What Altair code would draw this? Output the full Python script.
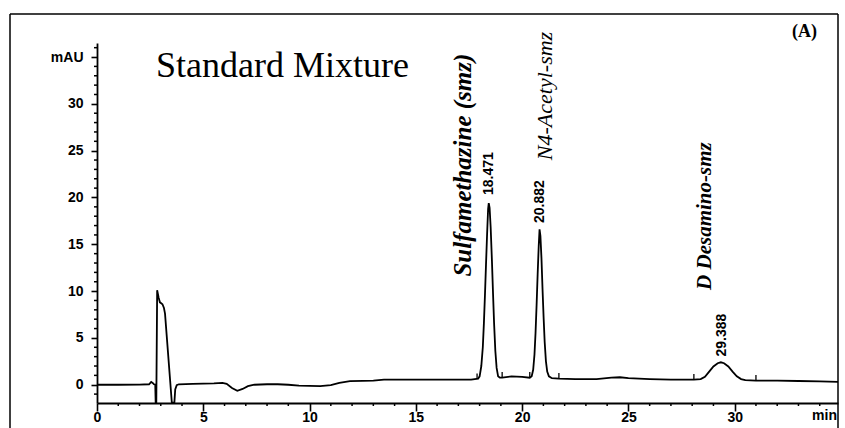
import altair as alt
import pandas as pd

# --- chromatogram trace (time in min, absorbance in mAU) ---
time_min = [
    0.0, 1.0, 2.0, 2.45, 2.55, 2.62, 2.68, 2.74, 2.76, 2.79, 2.83, 2.9, 2.96, 3.02, 3.08,
    3.15, 3.2, 3.52, 3.64, 3.68, 3.75, 3.85, 4.5, 5.0, 5.5, 5.9, 6.1, 6.35, 6.6, 6.85,
    7.1, 7.4, 8.0, 8.5, 9.0, 9.5, 10.0, 10.5, 11.0, 11.4, 11.9, 12.5, 13.0, 13.5, 14.0,
    15.0, 16.0, 17.0, 17.6,
    17.93, 18.0, 18.08, 18.15, 18.2, 18.25, 18.3, 18.35, 18.4, 18.43, 18.47, 18.52,
    18.58, 18.63, 18.68, 18.74, 18.8, 18.87, 18.95, 19.06,
    19.5, 20.0, 20.36,
    20.45, 20.52, 20.58, 20.63, 20.68, 20.73, 20.78, 20.82, 20.86, 20.91, 20.96, 21.01,
    21.06, 21.12, 21.18, 21.26, 21.4, 21.73,
    22.5, 23.5, 24.2, 24.6, 25.0, 26.0, 27.0, 28.08,
    28.4, 28.6, 28.8, 29.0, 29.2, 29.35, 29.5, 29.7, 29.9, 30.1, 30.3, 30.5,
    31.0, 32.0, 33.0, 34.0, 34.86,
]
absorbance_mau = [
    0.0, 0.0, 0.02, 0.05, 0.3, 0.2, 0.05, 0.0, -1.9, -1.9, 10.1, 9.3, 8.8, 8.7, 8.6,
    8.2, 7.6, -1.9, -1.9, -0.5, -0.05, 0.05, 0.1, 0.12, 0.15, 0.2, 0.1, -0.35, -0.65, -0.45,
    -0.15, 0.0, 0.05, 0.05, 0.0, -0.1, -0.12, -0.15, -0.05, 0.2, 0.38, 0.42, 0.45, 0.55, 0.55,
    0.55, 0.55, 0.55, 0.55,
    0.65, 0.9, 2.0, 4.0, 6.5, 9.5, 12.8, 16.0, 18.8, 19.4, 18.9, 16.8,
    13.2, 9.8, 6.6, 3.6, 1.8, 0.9, 0.75, 0.75,
    0.9, 0.85, 0.75,
    0.9, 1.6, 3.2, 5.5, 8.5, 11.8, 14.8, 16.6, 15.9, 13.5, 10.2, 7.2,
    4.6, 2.5, 1.4, 0.9, 0.7, 0.65,
    0.6, 0.6, 0.75, 0.8, 0.7, 0.6, 0.55, 0.55,
    0.6, 0.85, 1.4, 1.95, 2.3, 2.4, 2.3, 1.95, 1.4, 0.9, 0.6, 0.5,
    0.45, 0.45, 0.4, 0.35, 0.3,
]

# integration markers (small ticks at peak starts / ends)
marker_time = [17.88, 19.06, 20.36, 21.73, 28.08, 31.0]
marker_base = [0.6, 0.75, 0.75, 0.65, 0.55, 0.45]
marker_top = [1.2, 1.35, 1.35, 1.25, 1.15, 1.05]

# axis ticks
x_major = [0, 5, 10, 15, 20, 25, 30]
x_minor = [t for t in range(1, 35) if t % 5 != 0]
y_major = [0, 5, 10, 15, 20, 25, 30, 35]
y_minor = [v for v in range(-1, 37) if v % 5 != 0]

# peak annotations
rt_labels = ["18.471", "20.882", "29.388"]
compound_names = ["Sulfamethazine (smz)", "N4-Acetyl-smz", "D Desamino-smz"]

trace = pd.DataFrame({"t": time_min, "a": absorbance_mau})
markers = pd.DataFrame({"t": marker_time, "a": marker_base, "a2": marker_top})
xminor_df = pd.DataFrame({"t": x_minor})
yminor_df = pd.DataFrame({"a": y_minor})

W, H = 741, 360
X_DOM = [0, 34.86]
Y_DOM = [-1.95, 36.5]

AXIS_FONT = "Liberation Sans, Arial, sans-serif"
SERIF = "Liberation Serif, Times New Roman, serif"

x_enc = alt.X(
    "t:Q",
    scale=alt.Scale(domain=X_DOM, nice=False, zero=False),
    axis=alt.Axis(
        title=None,
        values=x_major,
        tickSize=8,
        labelPadding=-1,
        labelFont=AXIS_FONT,
        labelFontSize=14,
        labelFontWeight="bold",
        labelColor="black",
        labelOverlap=False,
        labelFlush=False,
        domainColor="black",
        domainWidth=1.8,
        tickColor="black",
        tickWidth=1.6,
        grid=False,
    ),
)
y_enc = alt.Y(
    "a:Q",
    scale=alt.Scale(domain=Y_DOM, nice=False, zero=False),
    axis=alt.Axis(
        title=None,
        values=y_major,
        labelExpr="datum.value === 35 ? 'mAU' : datum.label",
        tickSize=6,
        labelPadding=8,
        labelFont=AXIS_FONT,
        labelFontSize=14,
        labelFontWeight="bold",
        labelColor="black",
        labelOverlap=False,
        labelFlush=False,
        domainColor="black",
        domainWidth=1.8,
        tickColor="black",
        tickWidth=1.6,
        grid=False,
    ),
)

line = alt.Chart(trace).mark_line(color="black", strokeWidth=1.8).encode(
    x=x_enc, y=y_enc, order="t:Q"
)

ticks = alt.Chart(markers).mark_rule(color="black", strokeWidth=1.3).encode(
    x="t:Q", y="a:Q", y2="a2:Q"
)

x_minor_ticks = alt.Chart(xminor_df).mark_rule(color="black", strokeWidth=1.5).encode(
    x="t:Q", y=alt.value(H), y2=alt.value(H + 3)
)
y_minor_ticks = alt.Chart(yminor_df).mark_rule(color="black", strokeWidth=1.5).encode(
    y="a:Q", x=alt.value(0), x2=alt.value(-3)
)

def rot_label(text, t, v, font, size, weight, style):
    return alt.Chart().mark_text(
        text=text, angle=270, align="left", baseline="middle",
        font=font, fontSize=size, fontWeight=weight, fontStyle=style, color="black"
    ).encode(x=alt.datum(t), y=alt.datum(v))

labels = [
    rot_label(compound_names[0], 17.21, 11.55, SERIF, 25, "bold", "italic"),
    rot_label(compound_names[1], 21.07, 23.99, SERIF, 22, "normal", "italic"),
    rot_label(compound_names[2], 28.6, 10.13, SERIF, 21, "bold", "italic"),
    rot_label(rt_labels[0], 18.43, 20.26, AXIS_FONT, 14, "bold", "normal"),
    rot_label(rt_labels[1], 20.83, 17.27, AXIS_FONT, 14, "bold", "normal"),
    rot_label(rt_labels[2], 29.38, 3.02, AXIS_FONT, 14, "bold", "normal"),
]

title_txt = alt.Chart().mark_text(
    text="Standard Mixture", align="left", baseline="alphabetic",
    font=SERIF, fontSize=36, color="black"
).encode(x=alt.value(59), y=alt.value(34))

panel_txt = alt.Chart().mark_text(
    text="(A)", align="left", baseline="alphabetic",
    font=SERIF, fontSize=18, fontWeight="bold", color="black"
).encode(x=alt.value(695), y=alt.value(-6))

min_txt = alt.Chart().mark_text(
    text="min", align="right", baseline="top",
    font=AXIS_FONT, fontSize=14, fontWeight="bold", color="black"
).encode(x=alt.value(W - 1), y=alt.value(H + 6))

frame_left = alt.Chart().mark_rule(color="black", strokeWidth=1.5).encode(
    x=alt.value(-87), y=alt.value(-29), y2=alt.value(H + 40)
)
frame_top = alt.Chart().mark_rule(color="black", strokeWidth=1.5).encode(
    x=alt.value(-87), x2=alt.value(W), y=alt.value(-29)
)
frame_right = alt.Chart().mark_rule(color="black", strokeWidth=1.5).encode(
    x=alt.value(W), y=alt.value(-29), y2=alt.value(H + 40)
)

chart = alt.layer(
    line, ticks, x_minor_ticks, y_minor_ticks, *labels, title_txt, panel_txt, min_txt,
    frame_left, frame_top, frame_right
).properties(
    width=W,
    height=H,
    autosize=alt.AutoSizeParams(type="none"),
    padding={"left": 97, "top": 43, "right": 7, "bottom": 25},
    background="white",
).configure_view(strokeWidth=0)

chart.save("out.html", embed_options={"renderer": "svg", "actions": False})
